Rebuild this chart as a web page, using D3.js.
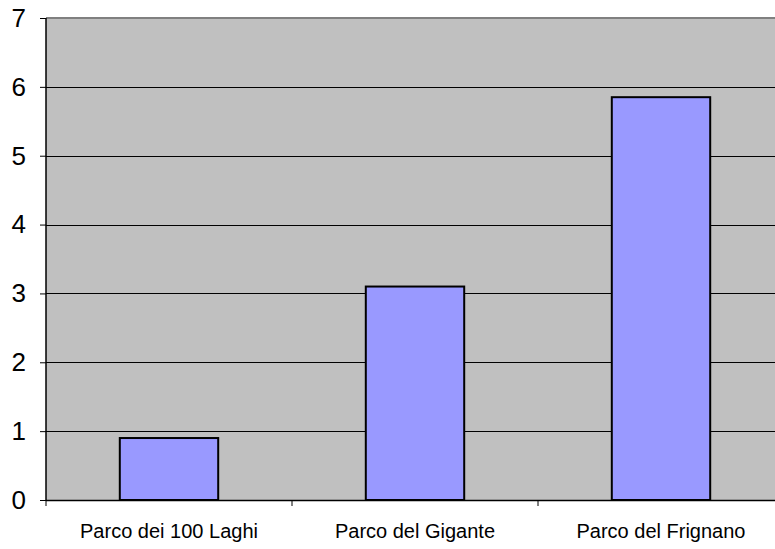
<!DOCTYPE html>
<html>
<head>
<meta charset="utf-8">
<script src="https://cdn.jsdelivr.net/npm/d3@7"></script>
<style>
  html, body { margin: 0; padding: 0; background: #fff; }
  svg { display: block; }
</style>
</head>
<body>
<svg id="chart" width="775" height="549"></svg>
<script>
// Parks and their values
const categories = ["Parco dei 100 Laghi", "Parco del Gigante", "Parco del Frignano"];
const values = [0.9, 3.1, 5.85];
const yTicks = [0, 1, 2, 3, 4, 5, 6, 7];

const svg = d3.select("#chart");
const plotLeft = 46, plotTop = 18, plotBottom = 500;
const bandWidth = 246;
const plotRight = plotLeft + bandWidth * categories.length; // plot runs past the right edge

const x = d3.scaleBand().domain(categories).range([plotLeft, plotRight]).paddingInner(0.6).paddingOuter(0.3);
const y = d3.scaleLinear().domain([0, 7]).range([plotBottom, plotTop]);

// Plot area background
svg.append("rect")
  .attr("x", plotLeft).attr("y", plotTop)
  .attr("width", plotRight - plotLeft).attr("height", plotBottom - plotTop)
  .attr("fill", "#c0c0c0");

// Horizontal gridlines
svg.append("g").selectAll("line")
  .data(yTicks.filter(d => d > 0 && d < 7))
  .join("line")
  .attr("x1", plotLeft).attr("x2", plotRight)
  .attr("y1", d => Math.round(y(d)) + 0.5).attr("y2", d => Math.round(y(d)) + 0.5)
  .attr("stroke", "#000").attr("stroke-width", 1);

// Top border of the plot area
svg.append("line")
  .attr("x1", plotLeft).attr("x2", plotRight)
  .attr("y1", plotTop).attr("y2", plotTop)
  .attr("stroke", "#808080").attr("stroke-width", 2);

// Bars
svg.append("g").selectAll("rect")
  .data(values)
  .join("rect")
  .attr("x", (d, i) => x(categories[i]))
  .attr("y", d => y(d))
  .attr("width", x.bandwidth())
  .attr("height", d => plotBottom - y(d))
  .attr("fill", "#9999ff")
  .attr("stroke", "#000")
  .attr("stroke-width", 2);

// Y axis
const yAxis = d3.axisLeft(y).tickValues(yTicks).tickSize(6).tickPadding(14).tickFormat(d3.format("d"));
const gy = svg.append("g").attr("transform", `translate(${plotLeft},0)`).call(yAxis);
gy.select(".domain").attr("stroke", "#000").attr("stroke-width", 1.5).attr("d", `M0,${plotTop}V${plotBottom}`);
gy.selectAll(".tick line").attr("stroke", "#000");
gy.selectAll(".tick text")
  .attr("font-family", "Liberation Sans, Arial, sans-serif")
  .attr("font-size", 26).attr("fill", "#000");

// X axis with ticks at category boundaries
svg.append("line")
  .attr("x1", plotLeft).attr("x2", plotRight)
  .attr("y1", plotBottom + 0.5).attr("y2", plotBottom + 0.5)
  .attr("stroke", "#000").attr("stroke-width", 1.5);
const bounds = d3.range(categories.length + 1).map(i => plotLeft + i * bandWidth);
svg.append("g").selectAll("line")
  .data(bounds)
  .join("line")
  .attr("x1", d => d).attr("x2", d => d)
  .attr("y1", plotBottom).attr("y2", plotBottom + 6)
  .attr("stroke", "#000");

svg.append("g").selectAll("text")
  .data(categories)
  .join("text")
  .attr("x", d => x(d) + x.bandwidth() / 2)
  .attr("y", 538)
  .attr("text-anchor", "middle")
  .attr("font-family", "Liberation Sans, Arial, sans-serif")
  .attr("font-size", 20)
  .attr("fill", "#000")
  .text(d => d);
</script>
</body>
</html>
